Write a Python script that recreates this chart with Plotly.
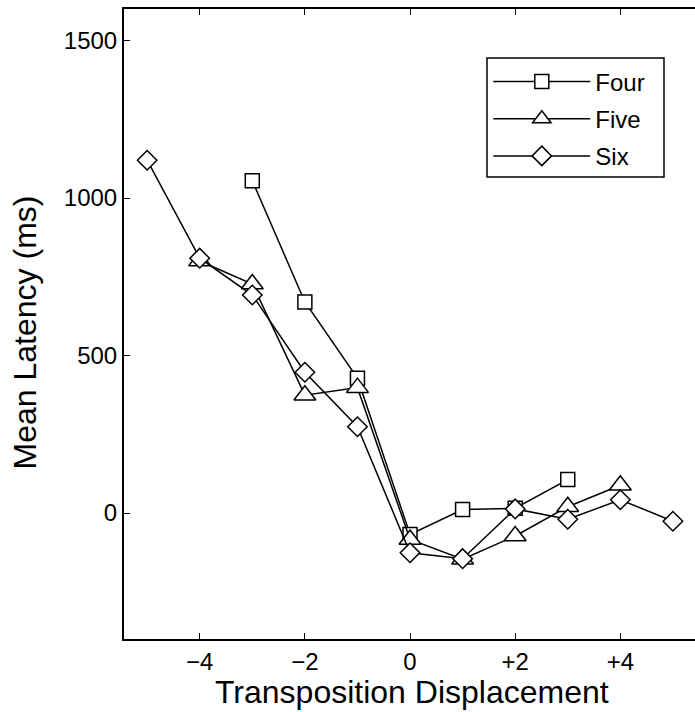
import plotly.graph_objects as go

# ---- data ----
four_x = [-3, -2, -1, 0, 1, 2, 3]
four_y = [1055, 670, 428, -68, 11, 15, 106]

five_x = [-4, -3, -2, -1, 0, 1, 2, 3, 4]
five_y = [800, 727, 374, 398, -84, -147, -73, 20, 88]

six_x = [-5, -4, -3, -2, -1, 0, 1, 2, 3, 4, 5]
six_y = [1120, 809, 692, 447, 274, -126, -145, 13, -20, 42, -26]

series_names = ["Four", "Five", "Six"]
x_tick_vals = [-4, -2, 0, 2, 4]
x_tick_text = ["\u22124", "\u22122", "0", "+2", "+4"]
y_tick_vals = [0, 500, 1000, 1500]
y_tick_text = ["0", "500", "1000", "1500"]

FONT = "Liberation Sans, Arial, Helvetica, sans-serif"

fig = go.Figure()

styles = [
    dict(symbol="square", size=14),
    dict(symbol="triangle-up", size=19),
    dict(symbol="diamond", size=15),
]
for name, xs, ys, st in zip(series_names, [four_x, five_x, six_x],
                            [four_y, five_y, six_y], styles):
    fig.add_trace(go.Scatter(
        x=xs, y=ys, name=name, mode="lines+markers", legendgroup=name,
        line=dict(color="black", width=1.5),
        marker=dict(symbol=st["symbol"], size=st["size"], color="white",
                    line=dict(color="black", width=1.5)),
        cliponaxis=False,
    ))

fig.update_layout(
    width=695, height=712,
    margin=dict(l=124, r=0, t=9, b=73),
    paper_bgcolor="white", plot_bgcolor="white",
    font=dict(family=FONT, color="black", size=24),
    legend=dict(
        x=0.638, y=0.92, xanchor="left", yanchor="top",
        borderwidth=0, bgcolor="rgba(0,0,0,0)",
        font=dict(size=24, family=FONT), itemwidth=97,
        traceorder="grouped", tracegroupgap=3,
    ),
    shapes=[
        dict(type="rect", xref="paper", yref="paper",
             x0=0.6357, x1=0.9457, y0=0.7333, y1=0.9222,
             line=dict(color="black", width=1.5), fillcolor="rgba(0,0,0,0)",
             layer="above"),
    ],
    annotations=[
        dict(text="Transposition Displacement", xref="paper", yref="paper",
             x=0.504, y=-0.084, xanchor="center", yanchor="middle",
             showarrow=False, font=dict(size=32, family=FONT)),
        dict(text="Mean Latency (ms)", xref="paper", yref="paper",
             x=-0.173, y=0.487, xanchor="center", yanchor="middle",
             textangle=-90, showarrow=False, font=dict(size=32, family=FONT)),
    ],
)

fig.update_xaxes(
    range=[-5.44, 5.42], showgrid=False, zeroline=False,
    showline=True, linecolor="black", linewidth=2, mirror="ticks",
    ticks="inside", ticklen=6, tickwidth=1.2, tickcolor="black",
    tickvals=x_tick_vals, ticktext=x_tick_text,
    tickfont=dict(size=24, family=FONT),
)
fig.update_yaxes(
    range=[-400, 1600], showgrid=False, zeroline=False,
    showline=True, linecolor="black", linewidth=2,
    ticks="inside", ticklen=6, tickwidth=1.2, tickcolor="black",
    tickvals=y_tick_vals, ticktext=y_tick_text,
    tickfont=dict(size=24, family=FONT),
)

fig.write_html("out.html")
